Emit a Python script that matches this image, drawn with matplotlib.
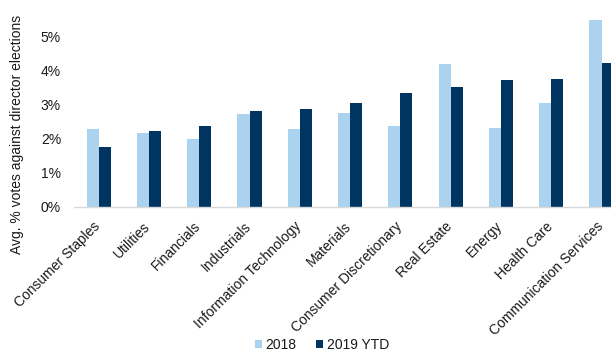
import matplotlib
matplotlib.use("Agg")
import matplotlib.pyplot as plt
import numpy as np
from matplotlib.ticker import FuncFormatter

plt.rcParams['font.family'] = ['Liberation Sans', 'DejaVu Sans']

sectors = ["Consumer Staples", "Utilities", "Financials", "Industrials",
           "Information Technology", "Materials", "Consumer Discretionary",
           "Real Estate", "Energy", "Health Care", "Communication Services"]
votes_2018 = [2.27, 2.15, 1.99, 2.72, 2.29, 2.74, 2.38, 4.18, 2.31, 3.05, 5.47]
votes_2019 = [1.75, 2.22, 2.37, 2.80, 2.87, 3.03, 3.33, 3.51, 3.71, 3.74, 4.21]
series_names = ["2018", "2019 YTD"]

light = "#ABD2EF"
dark = "#003562"
txt = "#1a1a1a"
fs = 10

W, H = 611, 351
fig = plt.figure(figsize=(W / 100, H / 100), dpi=100)
left, right = 73.5, 626.7
bottom_px, top_px = 206.7, 2.0
ax = fig.add_axes([left / W, 1 - bottom_px / H, (right - left) / W, (bottom_px - top_px) / H])

x = np.arange(len(sectors))
bw = 0.24
ax.bar(x - bw / 2, votes_2018, width=bw, color=light, label=series_names[0])
ax.bar(x + bw / 2, votes_2019, width=bw, color=dark, label=series_names[1])

ax.set_xlim(-0.5, len(sectors) - 0.5)
ax.set_ylim(0, 6.0)
ax.set_yticks(range(0, 6))
ax.yaxis.set_major_formatter(FuncFormatter(lambda v, p: f"{int(v)}%"))
ax.tick_params(axis='y', length=0, labelsize=fs, labelcolor=txt, pad=9)
ax.tick_params(axis='x', length=0)

ax.set_xticks(x)
ax.set_xticklabels([])
for xi, name in zip(x, sectors):
    ax.annotate(name, xy=(xi, 0), xycoords=('data', 'axes fraction'),
                xytext=(-4, -9), textcoords='offset points',
                rotation=45, ha='right', va='top', rotation_mode='anchor',
                fontsize=fs, color=txt, annotation_clip=False)

for s in ['top', 'right', 'left']:
    ax.spines[s].set_visible(False)
ax.spines['bottom'].set_color("#d9d9d9")
ax.spines['bottom'].set_linewidth(1.0)

fig.text(17.5 / W, 1 - 134 / H, "Avg. % votes against director elections",
         rotation=90, ha='center', va='center', fontsize=fs, color=txt)

handles, labels = ax.get_legend_handles_labels()
fig.legend(handles, labels, loc='center', bbox_to_anchor=(322 / W, 1 - 345 / H),
           ncol=2, frameon=False, fontsize=fs, handlelength=0.5, handleheight=0.5,
           handletextpad=0.25, columnspacing=1.4, labelcolor=txt,
           borderpad=0, borderaxespad=0)

fig.savefig("out.png", dpi=100)
